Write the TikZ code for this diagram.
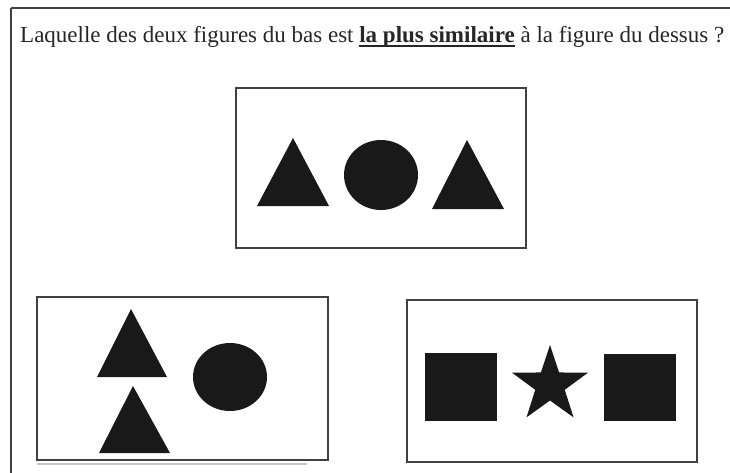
\documentclass[tikz,border=0pt]{standalone}
\usepackage{fontspec}
\setmainfont{Liberation Serif}
\usepackage{tikz}
\usetikzlibrary{calc}

% bold text with a Word-like underline just under the baseline
\newcommand{\underbold}[1]{\setbox0\hbox{\textbf{#1}}\rlap{\rule[-4.2pt]{\wd0}{1.4pt}}\box0\relax}

\begin{document}
\begin{tikzpicture}[
    x=1pt, y=-1pt,
    line join=miter,
    outerframe/.style={draw=black!75, line width=2pt},
    panel/.style={draw=black!75, line width=1.6pt},
    shadowline/.style={draw=black!22, line width=1.2pt},
    solid/.style={fill=black!90},
    question/.style={font=\fontsize{23}{27}\selectfont, anchor=base west, inner sep=0pt, text=black!85},
  ]
  \useasboundingbox (0,0) rectangle (730,472);
  \clip (0,0) rectangle (730,472);

  % ---------- outer frame (runs off the right and bottom edges) ----------
  \draw[outerframe] (11,8) -- (760,8);
  \draw[outerframe] (11,8) -- (11,500);

  % ---------- question ----------
  \node[question] (q) at (20,42.5)
    {Laquelle des deux figures du bas est \underbold{la plus similaire} à la figure du dessus ?};

  % ---------- TOP PANEL: triangle, circle, triangle ----------
  \draw[panel] (236,88) rectangle (526,248);
  \fill[solid] (257,206) -- (293,138) -- (329,206) -- cycle;
  \fill[solid] (381,175) ellipse[x radius=37, y radius=35];
  \fill[solid] (432,209) -- (467,140) -- (504,209) -- cycle;

  % ---------- BOTTOM LEFT PANEL: two stacked triangles + circle ----------
  \draw[shadowline] (37,464) -- (307,464);
  \draw[panel] (37,297) rectangle (328,460);
  \fill[solid] (97,377) -- (131,309) -- (167,377) -- cycle;
  \fill[solid] (99,453) -- (133,386) -- (170,453) -- cycle;
  \fill[solid] (230,377) ellipse[x radius=37, y radius=34];

  % ---------- BOTTOM RIGHT PANEL: square, star, square ----------
  \draw[panel] (407,300) rectangle (697,462);
  \fill[solid] (425,353) rectangle (497,421);
  \fill[solid] (604,354) rectangle (676,421);
  \def\Ro{40}\def\Ri{15.5}   % star: outer / inner radius
  \fill[solid] (550,345)
    foreach \i in {1,...,9} {
      \ifodd\i -- ({550+\Ri*cos(90+36*\i)},{385-\Ri*sin(90+36*\i)})
      \else -- ({550+\Ro*cos(90+36*\i)},{385-\Ro*sin(90+36*\i)}) \fi
    } -- cycle;

\end{tikzpicture}
\end{document}
